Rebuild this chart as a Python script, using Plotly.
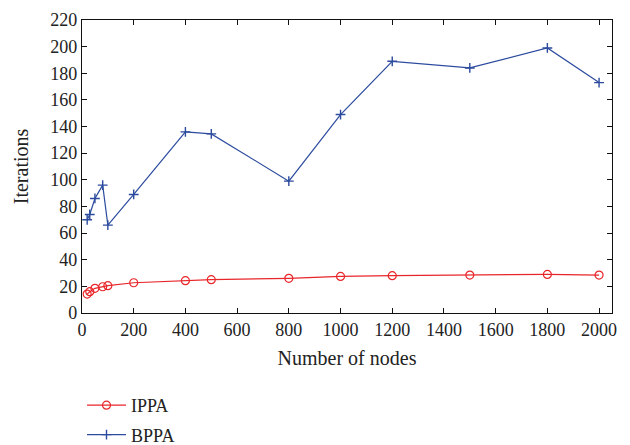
import plotly.graph_objects as go

nodes = [20, 30, 50, 80, 100, 200, 400, 500, 800, 1000, 1200, 1500, 1800, 2000]
ippa = [14.2, 16, 18.5, 19.7, 20.5, 22.7, 24.3, 25, 26, 27.5, 28, 28.5, 29, 28.5]
bppa = [70, 74, 86, 96, 66, 89, 136, 134.5, 99, 149, 189, 184, 199, 173]

x_ticks = list(range(0, 2001, 200))
y_ticks = list(range(0, 221, 20))

font_family = "Liberation Serif, Times New Roman, serif"
red = "#e8262a"
blue = "#2c4b9e"

fig = go.Figure()
fig.add_trace(go.Scatter(
    x=nodes, y=ippa, name="IPPA", mode="lines+markers", legendgroup="a",
    line=dict(color=red, width=1.2),
    marker=dict(symbol="circle-open", size=8, color=red, line=dict(width=1.2)),
))
fig.add_trace(go.Scatter(
    x=nodes, y=bppa, name="BPPA", mode="lines+markers", legendgroup="b",
    line=dict(color=blue, width=1.2),
    marker=dict(symbol="cross-thin-open", size=7, color=blue, line=dict(width=1.4, color=blue)),
))

axis_common = dict(
    showline=True, linecolor="#111", linewidth=1.2, mirror="ticks",
    ticks="inside", ticklen=5, tickcolor="#111", showgrid=False, zeroline=False,
    tickfont=dict(family=font_family, size=18, color="#222"),
    automargin=False,
)

fig.update_layout(
    width=630, height=445,
    margin=dict(l=82, r=18, t=20, b=132, autoexpand=False),
    paper_bgcolor="white", plot_bgcolor="white",
    font=dict(family=font_family, color="#222"),
    xaxis=dict(range=[0, 2050], tickvals=x_ticks,
               title=dict(text="Number of nodes", font=dict(family=font_family, size=20), standoff=12),
               **axis_common),
    yaxis=dict(range=[0, 220], tickvals=y_ticks,
               title=dict(text="Iterations", font=dict(family=font_family, size=20), standoff=16),
               **axis_common),
    legend=dict(x=0, xanchor="left", y=-0.2526, yanchor="top",
                font=dict(family=font_family, size=18, color="#222"),
                bgcolor="rgba(0,0,0,0)", tracegroupgap=3, itemwidth=39),
    showlegend=True,
)

fig.write_html("out.html")
